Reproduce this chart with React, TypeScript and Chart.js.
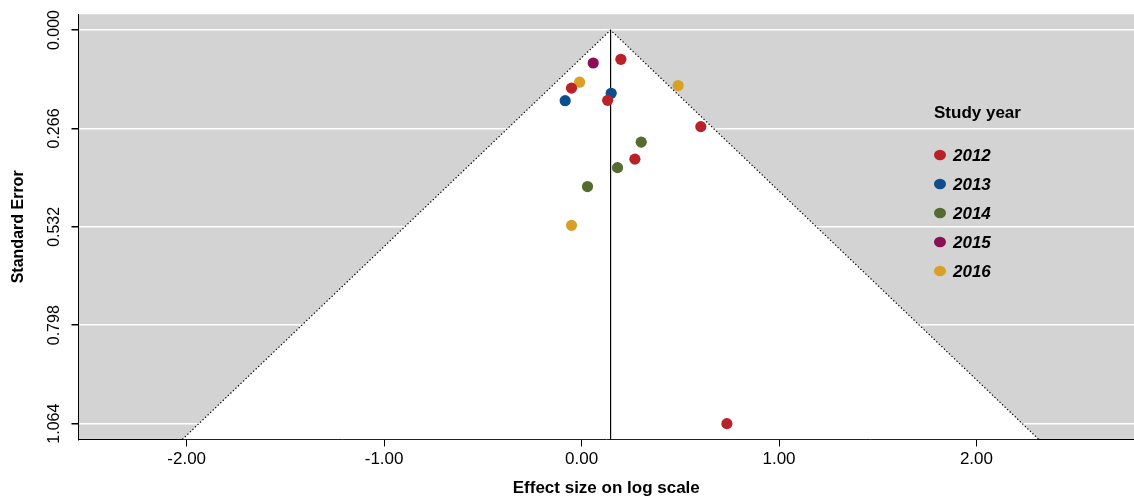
import React, { useEffect, useRef } from "react";
import { Chart, registerables } from "chart.js";

Chart.register(...registerables);

// ---- data ----
const years = ["2012", "2013", "2014", "2015", "2016"];
const yearColors = ["#B82228", "#0F4E8E", "#556B2F", "#8B0F56", "#D9A026"];

const effect2012 = [0.199, -0.051, 0.132, 0.604, 0.27, 0.736];
const se2012 = [0.079, 0.157, 0.19, 0.261, 0.349, 1.064];
const effect2013 = [-0.083, 0.15];
const se2013 = [0.191, 0.171];
const effect2014 = [0.302, 0.182, 0.03];
const se2014 = [0.303, 0.372, 0.423];
const effect2015 = [0.059];
const se2015 = [0.089];
const effect2016 = [-0.01, 0.489, -0.051];
const se2016 = [0.141, 0.15, 0.528];

const effectsByYear = [effect2012, effect2013, effect2014, effect2015, effect2016];
const seByYear = [se2012, se2013, se2014, se2015, se2016];

const xTicks = [-2, -1, 0, 1, 2];
const yTicks = [0, 0.266, 0.532, 0.798, 1.064];

const summaryEffect = 0.147;
const zCrit = 1.96;
const xMin = -2.548;
const xMax = 2.798;
const yMin = -0.0426;
const yMax = 1.1066;

const FONT = "'Liberation Sans', Arial, Helvetica, sans-serif";

const bgPlugin = {
  id: "bgPlugin",
  beforeDraw(chart: any) {
    const { ctx, chartArea } = chart;
    ctx.save();
    ctx.fillStyle = "#D3D3D3";
    ctx.fillRect(chartArea.left, chartArea.top, chartArea.right - chartArea.left, chartArea.bottom - chartArea.top);
    ctx.restore();
  },
};

const legendPlugin = {
  id: "legendPlugin",
  afterDatasetsDraw(chart: any) {
    const { ctx } = chart;
    ctx.save();
    ctx.fillStyle = "#000";
    ctx.textBaseline = "middle";
    ctx.textAlign = "left";
    ctx.font = `bold 17px ${FONT}`;
    ctx.fillText("Study year", 934, 113);
    years.forEach((y, i) => {
      const cy = 155 + i * 29;
      ctx.beginPath();
      ctx.fillStyle = yearColors[i];
      ctx.ellipse(940, cy, 6, 5.2, 0, 0, Math.PI * 2);
      ctx.fill();
      ctx.fillStyle = "#000";
      ctx.font = `italic bold 17px ${FONT}`;
      ctx.fillText(y, 953, cy + 1);
    });
    ctx.restore();
  },
};

export default function App() {
  const ref = useRef<HTMLCanvasElement | null>(null);

  useEffect(() => {
    if (!ref.current) return;
    const pointSets = years.map((y, i) => ({
      type: "scatter" as const,
      label: y,
      data: effectsByYear[i].map((e, j) => ({ x: e, y: seByYear[i][j] })),
      backgroundColor: yearColors[i],
      borderWidth: 0,
      pointRadius: 5.6,
      order: 1,
    }));
    const funnel = {
      type: "line" as const,
      label: "funnel",
      data: [
        { x: summaryEffect - zCrit * yMax, y: yMax },
        { x: summaryEffect, y: 0 },
        { x: summaryEffect + zCrit * yMax, y: yMax },
      ],
      borderColor: "#000",
      borderWidth: 1.2,
      borderDash: [1.3, 2.2],
      pointRadius: 0,
      fill: "start",
      backgroundColor: "#FFFFFF",
      tension: 0,
      order: 10,
    };
    const center = {
      type: "line" as const,
      label: "center",
      data: [
        { x: summaryEffect, y: 0 },
        { x: summaryEffect, y: yMax },
      ],
      borderColor: "#000",
      borderWidth: 1.2,
      pointRadius: 0,
      fill: false,
      order: 5,
    };

    const chart = new Chart(ref.current, {
      type: "scatter",
      data: { datasets: [...pointSets, center, funnel] as any },
      options: {
        animation: false,
        responsive: false,
        events: [],
        layout: { autoPadding: false, padding: { top: 14.3, right: 0, left: 0, bottom: 0 } },
        plugins: { legend: { display: false }, tooltip: { enabled: false } },
        scales: {
          x: {
            type: "linear",
            min: xMin,
            max: xMax,
            afterBuildTicks: (s: any) => {
              s.ticks = xTicks.map((v) => ({ value: v }));
            },
            afterFit: (s: any) => {
              s.height = 58.6;
            },
            grid: { drawOnChartArea: false, drawTicks: true, tickLength: 7, tickColor: "#000", color: "#000" },
            border: { display: true, color: "#000", width: 1 },
            ticks: {
              autoSkip: false,
              maxRotation: 0,
              minRotation: 0,
              padding: 3,
              color: "#000",
              font: { family: FONT, size: 17 },
              callback: (v: any) => Number(v).toFixed(2),
            },
            title: {
              display: true,
              text: "Effect size on log scale",
              color: "#000",
              font: { family: FONT, size: 17, weight: "bold", lineHeight: 1 },
              padding: { top: 0, bottom: 1 },
            },
          },
          y: {
            type: "linear",
            reverse: true,
            min: yMin,
            max: yMax,
            afterBuildTicks: (s: any) => {
              s.ticks = yTicks.map((v) => ({ value: v }));
            },
            afterFit: (s: any) => {
              s.width = 78.5;
            },
            grid: { drawOnChartArea: true, drawTicks: true, tickLength: 7, tickColor: "#000", color: "#FFFFFF", lineWidth: 1.5 },
            border: { display: true, color: "#000", width: 1 },
            ticks: {
              autoSkip: false,
              minRotation: 90,
              maxRotation: 90,
              crossAlign: "center",
              padding: -3.5,
              color: "#000",
              font: { family: FONT, size: 16 },
              callback: (v: any) => Number(v).toFixed(3),
            },
            title: {
              display: true,
              text: "Standard Error",
              color: "#000",
              font: { family: FONT, size: 16, weight: "bold" },
              padding: { top: 9, bottom: 0 },
            },
          },
        },
      },
      plugins: [bgPlugin, legendPlugin],
    });
    return () => chart.destroy();
  }, []);

  return (
    <div style={{ position: "absolute", left: 0, top: 0, width: 1134, height: 498, background: "#fff" }}>
      <canvas ref={ref} width={1134} height={498} style={{ display: "block" }} />
    </div>
  );
}
